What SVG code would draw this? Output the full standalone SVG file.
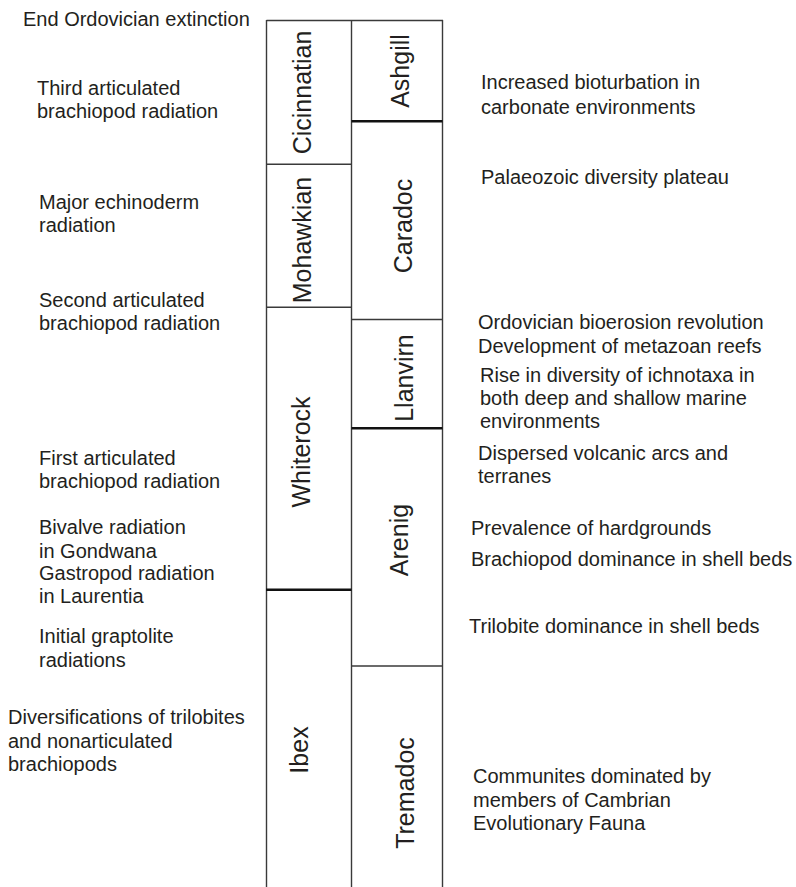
<svg xmlns="http://www.w3.org/2000/svg" width="796" height="887" viewBox="0 0 796 887">
<style>
  .t { font-family: "Liberation Sans", Arial, sans-serif; font-size: 20px; fill: #231f20; }
  .c { font-family: "Liberation Sans", Arial, sans-serif; font-size: 25px; fill: #231f20; text-anchor: middle; }
  .thin { stroke: #3a3a3a; stroke-width: 1.4; fill: none; }
  .thick { stroke: #111; stroke-width: 2.6; fill: none; }
</style>
<rect width="796" height="887" fill="#fff"/>
<g id="frame">
  <line class="thin" x1="266.5" y1="20.5" x2="443" y2="20.5"/>
  <line class="thin" x1="266.5" y1="20" x2="266.5" y2="887"/>
  <line class="thin" x1="351.5" y1="20" x2="351.5" y2="887"/>
  <line class="thin" x1="442.5" y1="20" x2="442.5" y2="887"/>
</g>
<g id="connectors">
  <line class="thin" x1="266" y1="164.3" x2="351.5" y2="164.3"/>
  <line class="thin" x1="266" y1="307.3" x2="351.5" y2="307.3"/>
  <line class="thick" x1="266" y1="589.7" x2="351.5" y2="589.7"/>
  <line class="thick" x1="351.5" y1="121.3" x2="442.5" y2="121.3"/>
  <line class="thin" x1="351.5" y1="319.5" x2="442.5" y2="319.5"/>
  <line class="thick" x1="351.5" y1="428.3" x2="442.5" y2="428.3"/>
  <line class="thin" x1="351.5" y1="666" x2="442.5" y2="666"/>
</g>
<g id="cicinnatian"><text class="c" transform="translate(311,92.5) rotate(-90)">Cicinnatian</text></g>
<g id="mohawkian"><text class="c" transform="translate(311,240) rotate(-90)">Mohawkian</text></g>
<g id="whiterock"><text class="c" transform="translate(310,452) rotate(-90)">Whiterock</text></g>
<g id="ibex"><text class="c" transform="translate(308,750) rotate(-90)">Ibex</text></g>
<g id="ashgill"><text class="c" transform="translate(409,71) rotate(-90)">Ashgill</text></g>
<g id="caradoc"><text class="c" transform="translate(412,226) rotate(-90)">Caradoc</text></g>
<g id="llanvirn"><text class="c" transform="translate(413,378) rotate(-90)">Llanvirn</text></g>
<g id="arenig"><text class="c" transform="translate(408,540) rotate(-90)">Arenig</text></g>
<g id="tremadoc"><text class="c" transform="translate(414,793) rotate(-90)">Tremadoc</text></g>
<g id="left-events">
  <text class="t" x="23" y="26">End Ordovician extinction</text>
  <text class="t" x="37" y="95">Third articulated</text>
  <text class="t" x="37" y="118">brachiopod radiation</text>
  <text class="t" x="39" y="209">Major echinoderm</text>
  <text class="t" x="39" y="232">radiation</text>
  <text class="t" x="39" y="307">Second articulated</text>
  <text class="t" x="39" y="330">brachiopod radiation</text>
  <text class="t" x="39" y="465">First articulated</text>
  <text class="t" x="39" y="488">brachiopod radiation</text>
  <text class="t" x="39" y="534">Bivalve radiation</text>
  <text class="t" x="39" y="558">in Gondwana</text>
  <text class="t" x="39" y="580">Gastropod radiation</text>
  <text class="t" x="39" y="603">in Laurentia</text>
  <text class="t" x="39" y="643">Initial graptolite</text>
  <text class="t" x="39" y="667">radiations</text>
  <text class="t" x="8" y="724">Diversifications of trilobites</text>
  <text class="t" x="8" y="748">and nonarticulated</text>
  <text class="t" x="8" y="771">brachiopods</text>
</g>
<g id="right-events">
  <text class="t" x="481" y="89">Increased bioturbation in</text>
  <text class="t" x="481" y="114">carbonate environments</text>
  <text class="t" x="481" y="184">Palaeozoic diversity plateau</text>
  <text class="t" x="478" y="329">Ordovician bioerosion revolution</text>
  <text class="t" x="478" y="353">Development of metazoan reefs</text>
  <text class="t" x="480" y="382">Rise in diversity of ichnotaxa in</text>
  <text class="t" x="480" y="405">both deep and shallow marine</text>
  <text class="t" x="480" y="428">environments</text>
  <text class="t" x="478" y="460">Dispersed volcanic arcs and</text>
  <text class="t" x="478" y="483">terranes</text>
  <text class="t" x="471" y="535">Prevalence of hardgrounds</text>
  <text class="t" x="471" y="566">Brachiopod dominance in shell beds</text>
  <text class="t" x="469" y="633">Trilobite dominance in shell beds</text>
  <text class="t" x="473" y="783">Communites dominated by</text>
  <text class="t" x="473" y="807">members of Cambrian</text>
  <text class="t" x="473" y="830">Evolutionary Fauna</text>
</g>
</svg>
